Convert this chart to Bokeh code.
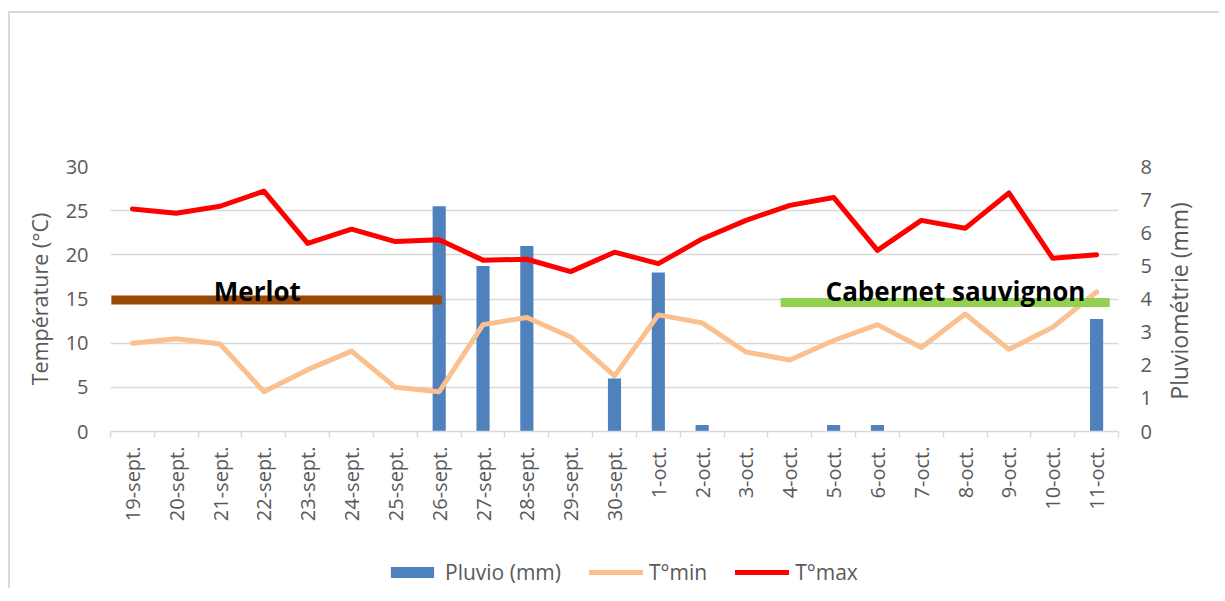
import math
from bokeh.plotting import figure
from bokeh.layouts import column
from bokeh.models import (Range1d, LinearAxis, FixedTicker, Legend, LegendItem,
                          ColumnDataSource, Label)
from bokeh.embed import file_html
from bokeh.resources import INLINE

# ---------------- data ----------------
dates = ["19-sept.", "20-sept.", "21-sept.", "22-sept.", "23-sept.", "24-sept.",
         "25-sept.", "26-sept.", "27-sept.", "28-sept.", "29-sept.", "30-sept.",
         "1-oct.", "2-oct.", "3-oct.", "4-oct.", "5-oct.", "6-oct.", "7-oct.",
         "8-oct.", "9-oct.", "10-oct.", "11-oct."]
tmax = [25.2, 24.7, 25.5, 27.2, 21.3, 22.9, 21.5, 21.7, 19.4, 19.5, 18.1, 20.3,
        19.0, 21.8, 23.9, 25.6, 26.5, 20.5, 23.9, 23.0, 27.0, 19.6, 20.0]
tmin = [10.0, 10.5, 9.9, 4.5, 7.0, 9.1, 5.0, 4.5, 12.1, 12.9, 10.7, 6.3,
        13.2, 12.3, 9.0, 8.1, 10.3, 12.1, 9.5, 13.3, 9.3, 11.8, 15.8]
pluvio = [0, 0, 0, 0, 0, 0, 0, 6.8, 5.0, 5.6, 0, 1.6,
          4.8, 0.2, 0, 0, 0.2, 0.2, 0, 0, 0, 0, 3.4]
temp_ticks = [0, 5, 10, 15, 20, 25, 30]
rain_ticks = [0, 1, 2, 3, 4, 5, 6, 7, 8]

# variety periods (category-index coordinates) and level (°C)
merlot_span = (-0.48, 7.06)
merlot_level = 14.9
cabernet_span = (14.79, 22.3)
cabernet_level = 14.6
# where the right-hand title starts (°C scale), it reads upward from there
right_title_start = 3.6

GRAY = "#595959"
GRID = "#D9D9D9"
FONT = "Open Sans"
C_RAIN, C_MIN, C_MAX = "#4F81BD", "#FAC090", "#FF0000"

n = len(dates)
xs = list(range(n))
src = ColumnDataSource(dict(x=xs, tmax=tmax, tmin=tmin, pluvio=pluvio))

p = figure(width=1209, height=545, output_backend="svg", toolbar_location=None,
           x_range=Range1d(-0.5, n - 0.5), y_range=Range1d(0, 30),
           min_border_left=100, min_border_right=101, min_border_top=153,
           min_border_bottom=127)
p.extra_y_ranges = {"rain": Range1d(0, 8)}
p.outline_line_color = None
p.background_fill_color = "white"
p.border_fill_color = "white"

# grid
p.xgrid.visible = False
p.ygrid.ticker = FixedTicker(ticks=temp_ticks)
p.ygrid.grid_line_color = GRID
p.ygrid.grid_line_width = 1.5

# bottom axis A: tick marks at category boundaries
xa = p.xaxis[0]
xa.ticker = FixedTicker(ticks=[i - 0.5 for i in range(n + 1)])
xa.major_label_overrides = {i - 0.5: "" for i in range(n + 1)}
xa.major_label_text_font_size = "1px"
xa.major_label_standoff = 0
xa.major_tick_in = 0
xa.major_tick_out = 6
xa.major_tick_line_color = GRID
xa.major_tick_line_width = 1.5
xa.minor_tick_line_color = None
xa.axis_line_color = GRID
xa.axis_line_width = 1.5

# bottom axis B: category labels
xb = LinearAxis(ticker=FixedTicker(ticks=xs),
                major_label_overrides={i: d for i, d in enumerate(dates)})
xb.major_label_orientation = math.pi / 2
xb.major_label_text_font = FONT
xb.major_label_text_font_size = "20px"
xb.major_label_text_color = GRAY
xb.major_label_standoff = 9
xb.major_tick_in = 0
xb.major_tick_out = 0
xb.minor_tick_line_color = None
xb.axis_line_color = None
p.add_layout(xb, "below")

# left axis
ya = p.yaxis[0]
ya.ticker = FixedTicker(ticks=temp_ticks)
ya.axis_label = "Température (°C)"

yr = LinearAxis(y_range_name="rain", ticker=FixedTicker(ticks=rain_ticks))
p.add_layout(yr, "right")

for ax in (ya, yr):
    ax.major_label_text_font = FONT
    ax.major_label_text_font_size = "20px"
    ax.major_label_text_color = GRAY
    ax.major_label_standoff = 22
    ax.major_tick_in = 0
    ax.major_tick_out = 0
    ax.minor_tick_line_color = None
    ax.axis_line_color = None
ya.axis_label_text_font = FONT
ya.axis_label_text_font_style = "normal"
ya.axis_label_text_color = GRAY
ya.axis_label_text_font_size = "21.5px"
ya.axis_label_standoff = 9

# right axis title, reading bottom-to-top like the left one
yt = LinearAxis(ticker=FixedTicker(ticks=[right_title_start]),
                major_label_overrides={right_title_start: "Pluviométrie (mm)"})
yt.major_label_orientation = math.pi / 2
yt.major_label_text_font = FONT
yt.major_label_text_font_size = "23px"
yt.major_label_text_color = GRAY
yt.major_label_standoff = 25
yt.major_tick_in = 0
yt.major_tick_out = 0
yt.minor_tick_line_color = None
yt.axis_line_color = None
p.add_layout(yt, "right")

# glyphs
p.vbar(x="x", top="pluvio", width=0.3, bottom=0, source=src,
       y_range_name="rain", fill_color=C_RAIN, line_color=None)
p.line("x", "tmin", source=src, line_color=C_MIN, line_width=5,
       line_join="round", line_cap="round")
p.line("x", "tmax", source=src, line_color=C_MAX, line_width=5,
       line_join="round", line_cap="round")

p.segment(x0=[merlot_span[0]], x1=[merlot_span[1]], y0=[merlot_level],
          y1=[merlot_level], line_color="#984807", line_width=9)
p.segment(x0=[cabernet_span[0]], x1=[cabernet_span[1]], y0=[cabernet_level],
          y1=[cabernet_level], line_color="#92D050", line_width=9)

p.add_layout(Label(x=2.85, y=15.9, text="Merlot", text_align="center",
                   text_baseline="alphabetic", text_font=FONT,
                   text_font_size="26px", text_font_style="bold",
                   text_color="black"))
p.add_layout(Label(x=18.78, y=15.9, text="Cabernet sauvignon", text_align="center",
                   text_baseline="alphabetic", text_font=FONT,
                   text_font_size="26px", text_font_style="bold",
                   text_color="black"))

# legend strip below the chart (its series sit outside the strip's visible range)
pl = figure(width=1209, height=30, output_backend="svg", toolbar_location=None,
            x_range=Range1d(-0.5, n - 0.5), y_range=Range1d(-100, -99),
            min_border=0, x_axis_type=None, y_axis_type=None)
pl.outline_line_color = None
pl.grid.visible = False
pl.border_fill_color = "white"
r_rain = pl.vbar(x="x", top="pluvio", bottom=0, width=0, source=src,
                 fill_color=C_RAIN, line_color=None)
r_min = pl.line("x", "tmin", source=src, line_color=C_MIN, line_width=5,
                line_cap="round")
r_max = pl.line("x", "tmax", source=src, line_color=C_MAX, line_width=5,
                line_cap="round")
legend = Legend(items=[LegendItem(label="Pluvio (mm)", renderers=[r_rain]),
                       LegendItem(label="T°min", renderers=[r_min]),
                       LegendItem(label="T°max", renderers=[r_max])],
                orientation="horizontal", location=(275, 2),
                border_line_color=None, background_fill_alpha=0,
                glyph_width=54, glyph_height=14, label_standoff=6, spacing=28,
                padding=0, margin=0, label_text_font=FONT,
                label_text_font_size="21px", label_text_color=GRAY)
pl.add_layout(legend)

layout = column(p, pl, spacing=0)
layout.styles = {"border-left": "2px solid #D9D9D9", "border-top": "2px solid #D9D9D9",
                 "margin-left": "8px", "margin-top": "11px"}

open("out.html", "w").write(file_html(layout, INLINE))
